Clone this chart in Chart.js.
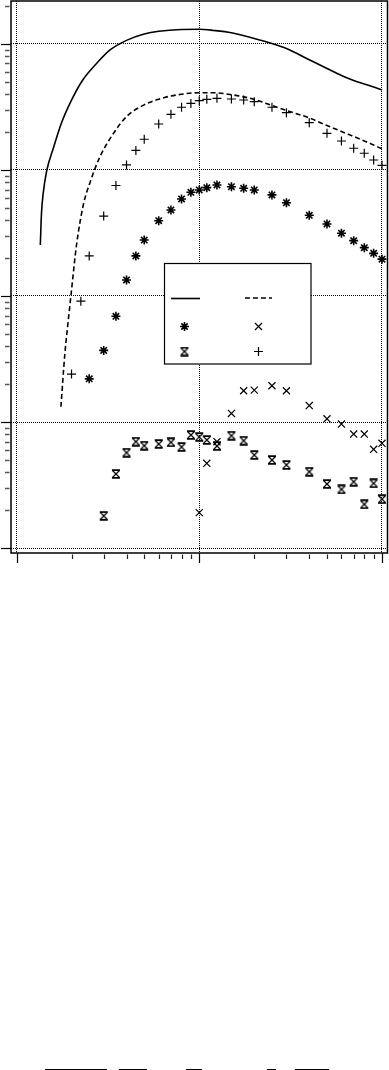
<!DOCTYPE html>
<html>
<head>
<meta charset="utf-8">
<script src="https://cdn.jsdelivr.net/npm/chart.js@4/dist/chart.umd.min.js"></script>
<style>
  html, body { margin: 0; padding: 0; background: #fff; }
  body { width: 389px; height: 1070px; position: relative; overflow: hidden; }
  #wrap { position: absolute; left: 0; top: 0; width: 389px; height: 570px; }
  .bar { position: absolute; top: 1069px; height: 1px; background: #000; }
</style>
</head>
<body>
<div id="wrap"><canvas id="chart"></canvas></div>
<div class="bar" style="left:45px;width:62px"></div>
<div class="bar" style="left:119px;width:28px"></div>
<div class="bar" style="left:186px;width:16px"></div>
<div class="bar" style="left:267px;width:9px"></div>
<div class="bar" style="left:295px;width:34px"></div>
<script>
// abscissa shared by the four marker series
var sampleX = [2, 2.25, 2.5, 3, 3.5, 4, 4.5, 5, 6, 7, 8, 9, 10, 11, 12.5, 15, 17.5, 20, 25, 30, 40, 50, 60, 70, 80, 90, 100];

var plusY = [24, 91, 208, 431, 753, 1096, 1429, 1753, 2317, 2767, 3147, 3373, 3548, 3640, 3707, 3658, 3594, 3484, 3147, 2850, 2373, 1955, 1699, 1487, 1358, 1200, 1089];
var starY = [null, null, 22, 37, 69, 134, 208, 278, 396, 482, 589, 665, 694, 724, 760, 737, 716, 694, 634, 550, 437, 373, 315, 275, 242, 218, 196];
var hourY = [null, null, null, 1.8, 3.87, 5.71, 6.98, 6.49, 6.69, 6.9, 6.33, 7.88, 7.6, 7.2, 6.45, 7.79, 7.11, 5.47, 4.99, 4.56, 4.03, 3.22, 2.92, 3.36, 2.22, 3.26, 2.44];
var crossY = [null, null, null, null, null, null, null, null, null, null, null, null, 1.91, 4.7, 6.98, 11.7, 17.7, 17.9, 19.4, 17.7, 13.5, 10.6, 9.64, 8.03, 8.03, 6.07, 6.78];

// solid curve
var solidX = [1.35, 1.37, 1.4, 1.46, 1.6, 1.75, 2, 2.3, 2.75, 3.25, 4, 5, 6, 8, 10, 12, 15, 20, 25, 30, 40, 50, 60, 70, 80, 90, 100];
var solidY = [254, 453, 653, 970, 1530, 2300, 3580, 5150, 7030, 8960, 10680, 12000, 12610, 13030, 13080, 12800, 12270, 11060, 10090, 9210, 7500, 6390, 5620, 5130, 4810, 4560, 4315];

// dashed curve
var dashX = [1.75, 1.84, 1.92, 2, 2.13, 2.32, 2.52, 2.86, 3.4, 4, 5, 6.4, 8, 10, 12, 15, 20, 25, 30, 40, 50, 60, 70, 80, 90, 100];
var dashY = [13.2, 35, 64, 111, 254, 527, 790, 1270, 1960, 2650, 3290, 3750, 3990, 4106, 4100, 3960, 3630, 3250, 2966, 2587, 2255, 2022, 1845, 1699, 1578, 1468];

function pts(xs, ys) {
  var out = [];
  for (var i = 0; i < xs.length; i++) {
    if (ys[i] != null) out.push({x: xs[i], y: ys[i]});
  }
  return out;
}

function hourglass() {
  var cv = document.createElement('canvas');
  cv.width = 10; cv.height = 10;
  var g = cv.getContext('2d');
  g.strokeStyle = '#000';
  g.lineWidth = 1.2;
  g.beginPath();
  g.moveTo(1.5, 1.5); g.lineTo(8.5, 8.5);
  g.moveTo(8.5, 1.5); g.lineTo(1.5, 8.5);
  g.stroke();
  g.lineWidth = 1.8;
  g.beginPath();
  g.moveTo(1, 1.2); g.lineTo(9, 1.2);
  g.moveTo(1, 8.8); g.lineTo(9, 8.8);
  g.stroke();
  return cv;
}
var hourMark = hourglass();

function logTicks(min, max) {
  var t = [];
  for (var e = -1; e <= 5; e++) {
    for (var k = 1; k <= 9; k++) {
      var v = k * Math.pow(10, e);
      v = parseFloat(v.toPrecision(6));
      if (v >= min && v <= max) t.push({value: v, major: k === 1});
    }
  }
  return t;
}

function gridColor(c) {
  return c.tick && c.tick.major ? '#000' : 'rgba(0,0,0,0)';
}

var markerSets = [
  {data: pts(sampleX, starY), pointStyle: 'star', pointRadius: 4.5, pointBorderWidth: 1.6},
  {data: pts(sampleX, crossY), pointStyle: 'crossRot', pointRadius: 5, pointBorderWidth: 1.2},
  {data: pts(sampleX, hourY), pointStyle: hourMark, pointRadius: 5, pointBorderWidth: 1},
  {data: pts(sampleX, plusY), pointStyle: 'cross', pointRadius: 4.5, pointBorderWidth: 1.2}
];

var datasets = [
  {label: '', data: pts(solidX, solidY), showLine: true, borderColor: '#000', borderWidth: 1.6,
   pointRadius: 0, cubicInterpolationMode: 'monotone'},
  {label: '', data: pts(dashX, dashY), showLine: true, borderColor: '#000', borderWidth: 1.6,
   borderDash: [5, 3], pointRadius: 0, cubicInterpolationMode: 'monotone'}
];
markerSets.forEach(function (m) {
  datasets.push({
    label: '', data: m.data, showLine: false,
    pointStyle: m.pointStyle, pointRadius: m.pointRadius, pointBorderWidth: m.pointBorderWidth,
    pointBorderColor: '#000', pointBackgroundColor: 'rgba(0,0,0,0)'
  });
});

var framePlugin = {
  id: 'frame',
  afterDraw: function (chart) {
    var c = chart.ctx, a = chart.chartArea;
    var xs = chart.scales.x, ys = chart.scales.y;
    c.save();
    // y ticks
    ys.ticks.forEach(function (t) {
      var p = Math.round(ys.getPixelForValue(t.value)) + 0.5;
      c.beginPath();
      if (t.major) {
        c.strokeStyle = '#000'; c.lineWidth = 1.2;
        c.moveTo(a.left - 10, p); c.lineTo(a.left, p);
      } else {
        c.strokeStyle = '#555'; c.lineWidth = 1.5;
        c.moveTo(a.left - 6, p); c.lineTo(a.left - 1.5, p);
      }
      c.stroke();
    });
    // x ticks
    xs.ticks.forEach(function (t) {
      var p = Math.round(xs.getPixelForValue(t.value)) + 0.5;
      c.beginPath();
      if (t.major) {
        c.strokeStyle = '#000'; c.lineWidth = 1.2;
        c.moveTo(p, a.bottom); c.lineTo(p, a.bottom + 10);
      } else {
        c.strokeStyle = '#222'; c.lineWidth = 1.2;
        c.moveTo(p, a.bottom + 1.5); c.lineTo(p, a.bottom + 6);
      }
      c.stroke();
    });
    // frame
    c.strokeStyle = '#000';
    c.lineWidth = 1.5;
    c.strokeRect(a.left, a.top, a.right - a.left, a.bottom - a.top);

    // legend box
    c.fillStyle = '#fff';
    c.fillRect(164.5, 263.5, 146.5, 100.5);
    c.lineWidth = 1.2;
    c.strokeRect(164.5, 263.5, 146.5, 100.5);
    c.lineWidth = 1.6;
    c.beginPath(); c.moveTo(171, 298.5); c.lineTo(200, 298.5); c.stroke();
    c.setLineDash([5, 3]);
    c.beginPath(); c.moveTo(245, 298); c.lineTo(272, 298); c.stroke();
    c.setLineDash([]);
    var spots = [[184.5, 326.5], [258.5, 326.5], [184.5, 351.5], [258.5, 351.5]];
    markerSets.forEach(function (m, i) {
      c.strokeStyle = '#000';
      c.fillStyle = 'rgba(0,0,0,0)';
      c.lineWidth = m.pointBorderWidth;
      Chart.helpers.drawPoint(c, {pointStyle: m.pointStyle, radius: m.pointRadius, borderWidth: m.pointBorderWidth, rotation: 0},
        spots[i][0], spots[i][1]);
    });
    c.restore();
  }
};

var logScale = function (min, max) {
  return {
    type: 'logarithmic', min: min, max: max,
    ticks: {display: false},
    grid: {drawTicks: false, color: gridColor, lineWidth: 1},
    border: {display: false, dash: [1, 1]},
    afterBuildTicks: function (s) { s.ticks = logTicks(s.min, s.max); }
  };
};

new Chart(document.getElementById('chart').getContext('2d'), {
  type: 'scatter',
  data: {datasets: datasets},
  options: {
    responsive: true,
    maintainAspectRatio: false,
    animation: false,
    events: [],
    layout: {autoPadding: false, padding: {left: 11, top: 1, right: 1.5, bottom: 17}},
    plugins: {legend: {display: false}, tooltip: {enabled: false}},
    scales: {
      x: logScale(0.933, 107.2),
      y: logScale(0.913, 21930)
    }
  },
  plugins: [framePlugin]
});
</script>
</body>
</html>
